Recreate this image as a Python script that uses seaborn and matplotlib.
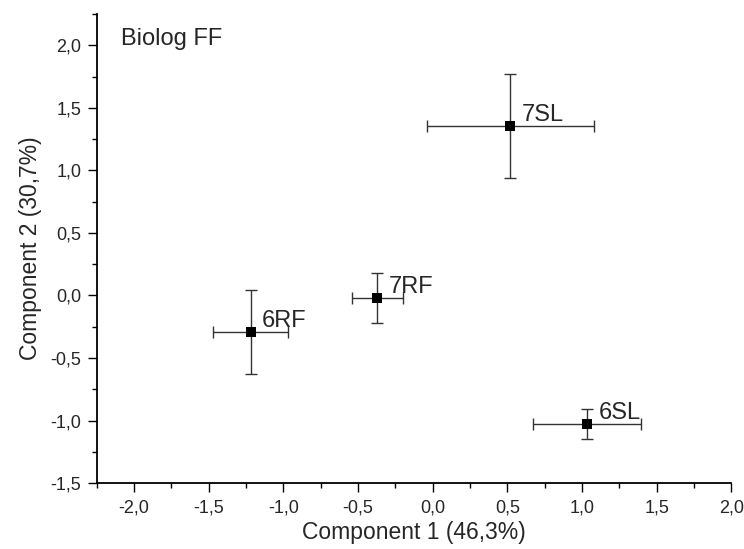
import matplotlib
matplotlib.use('Agg')
import matplotlib.pyplot as plt
from matplotlib.ticker import MultipleLocator, FuncFormatter
import seaborn as sns
import pandas as pd

# PCA scores
samples = ['6RF', '7RF', '7SL', '6SL']
comp1 = [-1.22, -0.37, 0.52, 1.035]
comp2 = [-0.29, -0.02, 1.355, -1.03]
comp1_err = [0.25, 0.17, 0.56, 0.36]
comp2_err = [0.337, 0.198, 0.416, 0.12]

df = pd.DataFrame({'sample': samples, 'c1': comp1, 'c2': comp2,
                   'e1': comp1_err, 'e2': comp2_err})

sns.set_style('ticks')
plt.rcParams['font.family'] = ['Liberation Sans', 'DejaVu Sans']

fig = plt.figure(figsize=(7.44, 5.49), dpi=100)
ax = fig.add_axes([0.130, 0.120, 0.853, 0.8545])

ax.errorbar(df['c1'], df['c2'], xerr=df['e1'], yerr=df['e2'], fmt='none',
            ecolor='#333333', elinewidth=1.0, capsize=4.5, capthick=1.0, zorder=2)
sns.scatterplot(data=df, x='c1', y='c2', marker='s', s=55, color='black',
                edgecolor='black', linewidth=0, ax=ax, zorder=3)

for _, r in df.iterrows():
    ax.annotate(r['sample'], (r['c1'], r['c2']), xytext=(8, 3.6),
                textcoords='offset points', ha='left', va='baseline', fontsize=17)

ax.text(0.039, 0.934, 'Biolog FF', transform=ax.transAxes, fontsize=17,
        ha='left', va='baseline')

ax.set_xlim(-2.25, 2.0)
ax.set_ylim(-1.5, 2.25)
ax.xaxis.set_major_locator(MultipleLocator(0.5))
ax.xaxis.set_minor_locator(MultipleLocator(0.25))
ax.yaxis.set_major_locator(MultipleLocator(0.5))
ax.yaxis.set_minor_locator(MultipleLocator(0.25))
fmt = FuncFormatter(lambda v, p: f'{v:.1f}'.replace('.', ',').replace('\u2212', '-'))
ax.xaxis.set_major_formatter(fmt)
ax.yaxis.set_major_formatter(fmt)

ax.tick_params(which='major', length=6.5, width=1.0, labelsize=13, direction='out', color='black')
ax.tick_params(which='minor', length=3.5, width=1.0, direction='out', color='black')
ax.tick_params(axis='x', which='major', pad=5.5)
ax.tick_params(axis='y', which='major', pad=4.5)
for s in ['left', 'bottom']:
    ax.spines[s].set_linewidth(1.3)
    ax.spines[s].set_color('black')
sns.despine(ax=ax)

ax.set_xlabel('Component 1 (46,3%)', fontsize=16.5, labelpad=3)
ax.set_ylabel('Component 2 (30,7%)', fontsize=16.5, labelpad=6)

fig.savefig('out.png', dpi=100)
